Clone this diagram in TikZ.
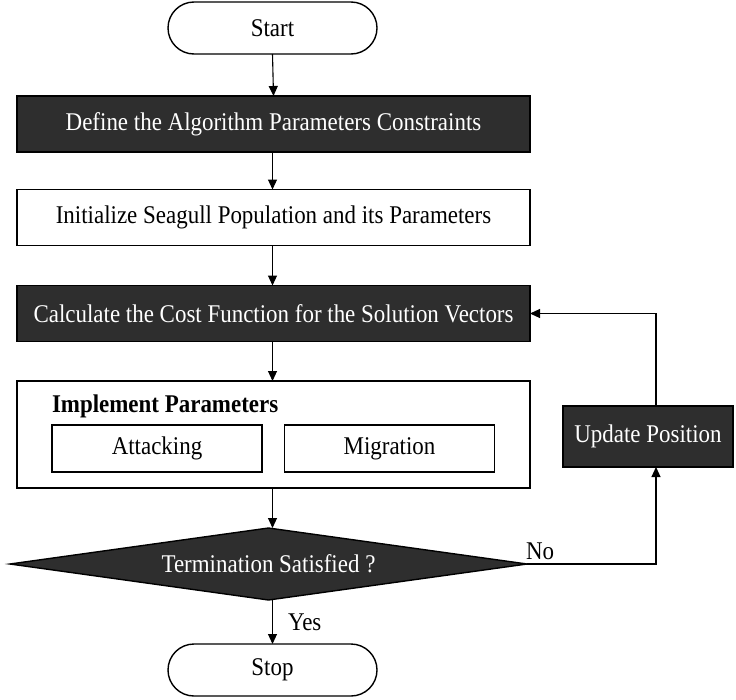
\documentclass[tikz,border=0pt]{standalone}
\usepackage{fontspec}
\setmainfont{Liberation Serif}[FakeStretch=0.9]
\usetikzlibrary{shapes.geometric,arrows.meta}
\definecolor{darkbox}{HTML}{2E2E2E}
\begin{document}
\begin{tikzpicture}[x=1pt,y=-1pt,
  font=\fontsize{25.5}{30}\selectfont,
  line width=1.4pt,
  every node/.style={inner sep=0pt, outer sep=0pt},
  wbox/.style={draw=black, fill=white, minimum width=513pt, minimum height=56pt},
  dbox/.style={draw=black, fill=darkbox, text=white, minimum width=513pt, minimum height=56pt},
  pill/.style={draw=black, fill=white, rounded corners=26pt, minimum width=209pt, minimum height=52pt},
  sub/.style={draw=black, fill=white, minimum width=210pt, minimum height=47pt},
  dec/.style={diamond, draw=black, fill=darkbox, text=white, aspect=7.2, minimum width=517pt, minimum height=72pt},
  arr/.style={-{Triangle[length=10pt,width=9pt]}, line width=1.1pt},
  lbl/.style={font=\fontsize{25.5}{30}\selectfont}
]
\useasboundingbox[fill=white] (0,0) rectangle (736,699);

\node[pill] (start) at (272.5,28) {Start};
\node[dbox] (define) at (273.5,124) {Define the Algorithm Parameters Constraints};
\node[wbox] (init) at (273.5,217.5) {Initialize Seagull Population and its Parameters};
\node[dbox] (calc) at (273.5,313.5) {Calculate the Cost Function for the Solution Vectors};
\node[draw=black, fill=white, minimum width=513pt, minimum height=107pt] (impl) at (273.5,434.5) {};
\node[anchor=west, font=\fontsize{25.5}{30}\selectfont\bfseries] (title) at (52,406) {Implement Parameters};
\node[sub] (att) at (157,448.5) {Attacking};
\node[sub] (mig) at (389.5,448.5) {Migration};
\node[dec] (term) at (268.5,564) {Termination Satisfied ?};
\node[pill] (stop) at (272.5,670) {Stop};
\node[draw=black, fill=darkbox, text=white, minimum width=170pt, minimum height=61pt] (upd) at (648,436.5) {Update Position};

\coordinate (c1) at (656,564);
\coordinate (c2) at (656,313.5);

\draw[arr] (start.south) -- (define.north);
\draw[arr] (define.south -| start.south) -- (init.north -| start.south);
\draw[arr] (init.south -| start.south) -- (calc.north -| start.south);
\draw[arr] (calc.south -| start.south) -- (impl.north -| start.south);
\draw[arr] (impl.south -| start.south) -- (term.north -| start.south);
\draw[arr] (term.south -| start.south) -- (stop.north);
\draw[arr] (term.east) -- (c1) -- (upd.south -| c1);
\draw[arr] (upd.north -| c1) -- (c2) -- (calc.east);

\node[lbl, anchor=south west] (no) at (526,560) {No};
\node[lbl, anchor=west] (yes) at (288,622) {Yes};
\end{tikzpicture}
\end{document}
